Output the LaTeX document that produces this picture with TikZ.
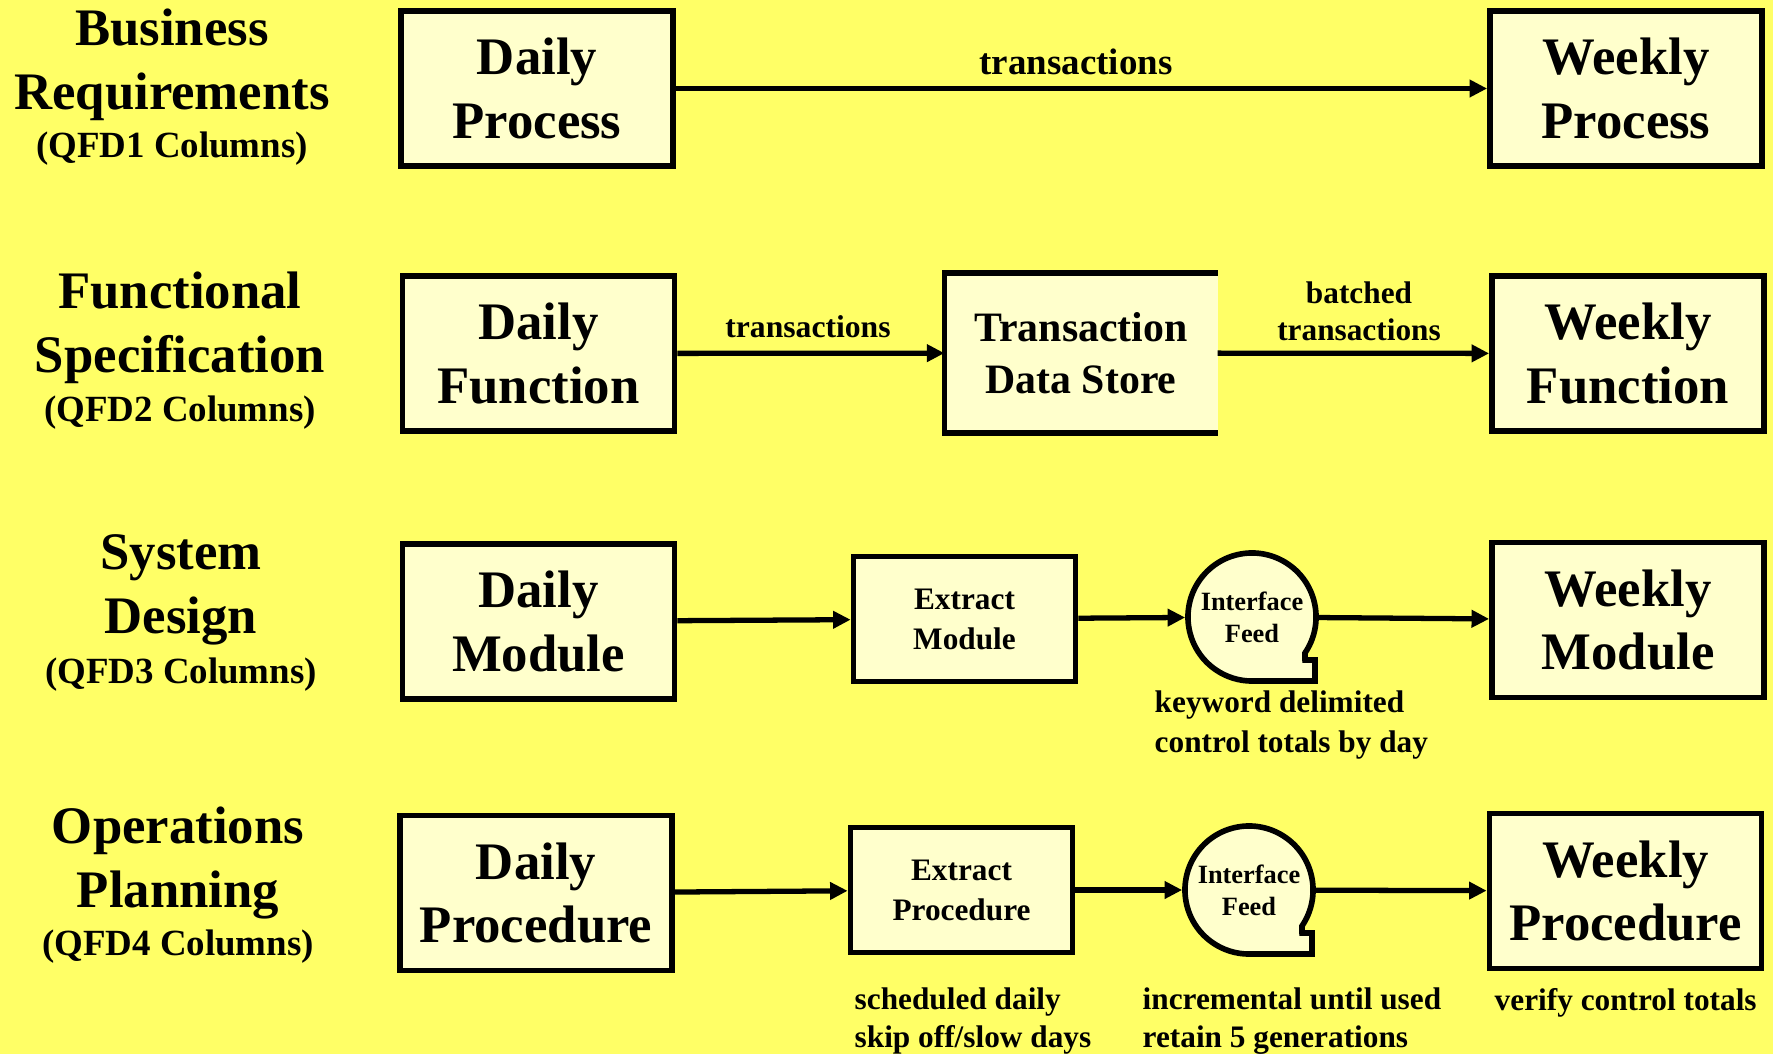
\documentclass[tikz,border=0pt]{standalone}
\usepackage{fontspec}
\setmainfont{Liberation Serif}
\usetikzlibrary{arrows.meta}
\definecolor{bgyellow}{RGB}{255,255,102}
\definecolor{boxfill}{RGB}{255,255,204}

\begin{document}
\begin{tikzpicture}[x=0.01cm,y=0.01cm,
  every node/.style={inner sep=0pt, font=\bfseries},
  boxline/.style={draw=black, line width=1.6pt},
  bigbox/.style={boxline, fill=boxfill, align=center,
    minimum width=2.72cm, minimum height=1.55cm,
    font=\bfseries\fontsize{15}{18.1}\selectfont},
  midbox/.style={boxline, fill=boxfill, align=center,
    minimum width=2.22cm, minimum height=1.25cm,
    font=\bfseries\fontsize{8.9}{11.4}\selectfont},
  storebox/.style={fill=boxfill, align=center, outer sep=0pt,
    minimum width=2.73cm, minimum height=1.60cm,
    font=\bfseries\fontsize{11.9}{14.8}\selectfont},
  feedtext/.style={circle, minimum size=1.28cm, align=center, outer sep=0.8pt,
    font=\bfseries\fontsize{7.5}{9.1}\selectfont},
  feedshape/.style={boxline, fill=boxfill},
  rowtitle/.style={align=center, font=\bfseries\fontsize{15}{18.2}\selectfont},
  rowsub/.style={font=\bfseries\fontsize{10.5}{12}\selectfont},
  biglabel/.style={font=\bfseries\fontsize{10.5}{12}\selectfont},
  note/.style={align=left, anchor=west, font=\bfseries\fontsize{8.9}{10.8}\selectfont},
  flow/.style={line width=1.5pt, -{Triangle[length=5pt,width=4.8pt]}}
]
\fill[bgyellow] (0,0) rectangle (1773,-1054);
\useasboundingbox (0,0) rectangle (1773,-1054);

% ---- row titles ----
\node[rowtitle] (r1t) at (172,-65) {Business\\Requirements};
\node[rowsub]   (r1s) at (172,-149) {(QFD1 Columns)};
\node[rowtitle] (r2t) at (180,-328) {Functional\\Specification};
\node[rowsub]   (r2s) at (180,-413) {(QFD2 Columns)};
\node[rowtitle] (r3t) at (181,-590) {System\\Design};
\node[rowsub]   (r3s) at (181,-675) {(QFD3 Columns)};
\node[rowtitle] (r4t) at (178,-863) {Operations\\Planning};
\node[rowsub]   (r4s) at (178,-947) {(QFD4 Columns)};

% ---- row 1: business requirements ----
\node[bigbox] (dproc) at (537,-88.5) {Daily\\Process};
\node[bigbox] (wproc) at (1626,-88.5) {Weekly\\Process};
\draw[flow] (dproc) -- (wproc);
\node[biglabel] (l1) at (1076,-62) {transactions};

% ---- row 2: functional specification ----
\node[bigbox] (dfun) at (538.5,-353.5) {Daily\\Function};
\node[storebox] (tds) at (1081,-353) {Transaction\\Data Store};
\draw[boxline] (tds.north east) -- (tds.north west) -- (tds.south west) -- (tds.south east);
\node[bigbox] (wfun) at (1628,-353.5) {Weekly\\Function};
\draw[flow] (dfun) -- (tds);
\draw[flow] (tds) -- (wfun);
\node[font=\bfseries\fontsize{9}{10.6}\selectfont] (l2) at (808,-327) {transactions};
\node[align=center, font=\bfseries\fontsize{8.9}{10.6}\selectfont] (l3) at (1359,-311) {batched\\transactions};

% ---- row 3: system design ----
\node[bigbox] (dmod) at (538.5,-621.5) {Daily\\Module};
\node[midbox] (emod) at (964.5,-619) {Extract\\Module};
\draw[feedshape] ([shift={(-34.2:0.64cm)}]1252,-617) arc[start angle=-34.2, end angle=270, radius=0.64cm]
  -- ++(0.63cm,0) -- ++(0,0.21cm) -- ++(-0.10cm,0) -- cycle;
\node[feedtext] (feed3) at (1252,-617) {Interface\\Feed};
\node[bigbox] (wmod) at (1628,-620) {Weekly\\Module};
\draw[flow] (dmod) -- (emod);
\draw[flow] (emod) -- (feed3);
\draw[flow] (feed3) -- (wmod);
\node[note, font=\bfseries\fontsize{8.9}{11.3}\selectfont] (n1) at (1154,-725) {keyword delimited\\control totals by day};

% ---- row 4: operations planning ----
\node[bigbox] (dpro) at (536,-893) {Daily\\Procedure};
\node[midbox] (epro) at (961.5,-890) {Extract\\Procedure};
\draw[feedshape] ([shift={(-34.2:0.64cm)}]1249,-890) arc[start angle=-34.2, end angle=270, radius=0.64cm]
  -- ++(0.63cm,0) -- ++(0,0.21cm) -- ++(-0.10cm,0) -- cycle;
\node[feedtext] (feed4) at (1249,-890) {Interface\\Feed};
\node[bigbox] (wpro) at (1625.5,-891) {Weekly\\Procedure};
\draw[flow] (dpro) -- (epro);
\draw[flow] (epro) -- (feed4);
\draw[flow] (feed4) -- (wpro);
\node[note] (n2) at (854,-1021) {scheduled daily\\skip off/slow days};
\node[note] (n3) at (1142,-1021) {incremental until used\\retain 5 generations};
\node[note] (n4) at (1494,-1003) {verify control totals};
\end{tikzpicture}
\end{document}
